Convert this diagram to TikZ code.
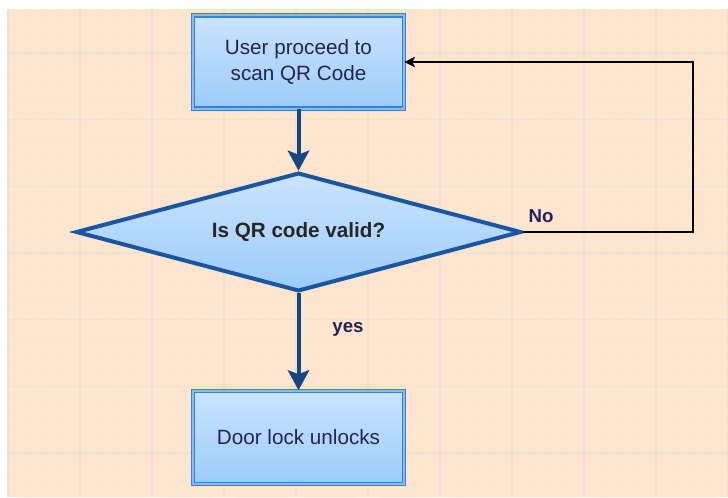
\documentclass[tikz,border=0pt]{standalone}
\usepackage{fontspec}
\setmainfont{Liberation Sans}
\usetikzlibrary{positioning, shapes.geometric, arrows.meta}

\definecolor{paper}{HTML}{FEE6CE}
\definecolor{gridminor}{HTML}{F9E4D1}
\definecolor{gridmajor}{HTML}{EDE1D7}
\definecolor{boxedge}{HTML}{3A7FD2}
\definecolor{boxband}{HTML}{86BDF5}
\definecolor{filltop}{HTML}{CAE4FF}
\definecolor{fillbottom}{HTML}{9CCBF8}
\definecolor{flowblue}{HTML}{174680}
\definecolor{diaedge}{HTML}{1A56A0}
\definecolor{inkblue}{HTML}{23235A}

\tikzset{
    procbox/.style={rectangle, draw=boxedge, line width=0.9pt, double=boxband,
        double distance=1.5pt, top color=filltop, bottom color=fillbottom,
        minimum width=158pt, minimum height=70pt, inner sep=2pt, align=center,
        text=inkblue, font=\fontsize{15.5}{19}\selectfont},
    decision/.style={diamond, aspect=3.75, draw=diaedge, line width=3pt, top color=filltop,
        bottom color=fillbottom, minimum width=334pt, minimum height=89pt,
        inner sep=0pt, text=black!85, font=\bfseries\fontsize{15.5}{19}\selectfont},
    flowarrow/.style={draw=flowblue, line width=3pt,
        -{Stealth[length=15pt, width=16pt, inset=3pt]}},
    loopline/.style={draw=black, line width=1.1pt,
        -{Stealth[length=8pt, width=8pt, inset=2pt]}},
    lbl/.style={text=inkblue, font=\bfseries\fontsize{14}{17}\selectfont},
}

\begin{document}
\begin{tikzpicture}[x=0.75pt, y=0.75pt]
    \useasboundingbox (0,0) rectangle (728,497);
    % background grid
    \fill[paper] (8,0) rectangle (728,488);
    \foreach \i in {0,...,40}
        \draw[gridminor, line width=0.6pt] ({8+18*\i},0) -- ({8+18*\i},488);
    \foreach \j in {-2,...,26}
        \draw[gridminor, line width=0.6pt] (8,{444-16.667*\j}) -- (728,{444-16.667*\j});
    \foreach \i in {0,...,10}
        \draw[gridmajor, line width=0.8pt] ({8+72*\i},0) -- ({8+72*\i},488);
    \foreach \j in {0,...,6}
        \draw[gridmajor, line width=0.8pt] (8,{444-66.667*\j}) -- (728,{444-66.667*\j});

    % flow
    \node[procbox] (scan) at (298.5,435) {User proceed to\\scan QR Code};
    \node[decision] (valid) at (298.5,265) {Is QR code valid?};
    \node[procbox] (unlock) at (298.5,59.5) {Door lock unlocks};
    \coordinate (loopcorner) at (693,265);

    \draw[flowarrow] (scan.south) -- (valid.north);
    \draw[flowarrow] (valid.south) -- (unlock.north);
    \draw[loopline] (valid.east) -- (loopcorner) |- (scan.east);

    \node[lbl] (nolbl) at (541,281) {No};
    \node[lbl] (yeslbl) at (348,168) {yes};
\end{tikzpicture}
\end{document}
